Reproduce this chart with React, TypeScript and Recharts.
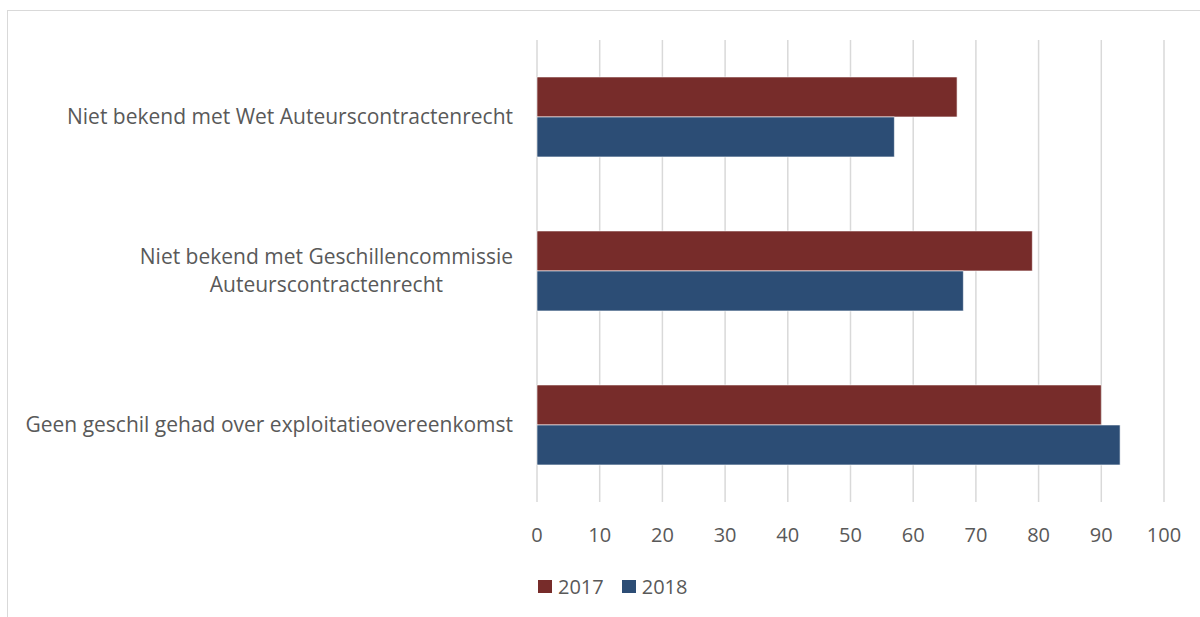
import React from 'react';
import { BarChart, Bar, XAxis, YAxis, CartesianGrid, Legend } from 'recharts';

const categories = [
  'Niet bekend met Wet Auteurscontractenrecht',
  'Niet bekend met Geschillencommissie Auteurscontractenrecht',
  'Geen geschil gehad over exploitatieovereenkomst',
];
const values2017 = [67, 79, 90];
const values2018 = [57, 68, 93];
const xTicks = [0, 10, 20, 30, 40, 50, 60, 70, 80, 90, 100];
const seriesNames = ['2017', '2018'];
const seriesColors = ['#772C2A', '#2C4D75'];

const data = categories.map((c, i) => ({ name: c, y2017: values2017[i], y2018: values2018[i] }));

const FONT = '"Open Sans", Lato, sans-serif';
const FS = 21;
const TFS = 20;
const TEXT = '#595959';

let ctx: CanvasRenderingContext2D | null = null;
function measure(s: string): number {
  if (!ctx) {
    const c = document.createElement('canvas');
    ctx = c.getContext('2d');
  }
  if (!ctx) return s.length * FS * 0.5;
  ctx.font = `${FS}px ${FONT}`;
  return ctx.measureText(s).width;
}

function wrap(s: string, maxW: number): string[] {
  const words = s.split(' ');
  const lines: string[] = [];
  let cur = '';
  for (const w of words) {
    const t = cur ? cur + ' ' + w : w;
    if (measure(t) > maxW && cur) {
      lines.push(cur);
      cur = w;
    } else cur = t;
  }
  if (cur) lines.push(cur);
  return lines;
}

const YTick = (props: any) => {
  const { y, payload } = props;
  const x = props.x - 16;
  const lines = wrap(String(payload.value), 505);
  const widths = lines.map(measure);
  const maxW = Math.max(...widths);
  const cx = x - maxW / 2;
  const lh = 28;
  const startY = y - ((lines.length - 1) * lh) / 2;
  return (
    <g>
      {lines.map((l, i) => (
        <text
          key={i}
          x={lines.length > 1 ? cx : x}
          y={startY + i * lh}
          dy="0.35em"
          textAnchor={lines.length > 1 ? 'middle' : 'end'}
          fill={TEXT}
          fontSize={FS}
          fontFamily={FONT}
        >
          {l}
        </text>
      ))}
    </g>
  );
};

const LegendContent = () => (
  <div style={{ display: 'flex', alignItems: 'center', fontFamily: FONT, fontSize: TFS, color: TEXT }}>
    {seriesNames.map((n, i) => (
      <div key={n} style={{ display: 'flex', alignItems: 'center', marginRight: 18 }}>
        <span style={{ width: 14, height: 13, background: seriesColors[i], display: 'inline-block', marginRight: 6 }} />
        <span>{n}</span>
      </div>
    ))}
  </div>
);

export default function App() {
  return (
    <div style={{ position: 'absolute', left: 0, top: 0, width: 1200, height: 617, overflow: 'hidden', background: '#fff' }}>
      <div
        style={{
          position: 'absolute',
          left: 7,
          top: 10,
          width: 1220,
          height: 640,
          border: '1.5px solid #d9d9d9',
          boxSizing: 'border-box',
        }}
      />
      <div style={{ position: 'absolute', left: 0, top: 0 }}>
        <BarChart
          width={1200}
          height={617}
          data={data}
          layout="vertical"
          margin={{ top: 40, right: 36, bottom: 29, left: 0 }}
          barCategoryGap="24%"
          barGap={0}
        >
          <CartesianGrid horizontal={false} stroke="#d9d9d9" strokeWidth={1.5} />
          <XAxis
            type="number"
            domain={[0, 100]}
            ticks={xTicks}
            interval={0}
            axisLine={false}
            tickLine={false}
            tickMargin={20}
            height={60}
            tick={{ fill: TEXT, fontSize: TFS, fontFamily: FONT }}
          />
          <YAxis
            type="category"
            dataKey="name"
            width={537}
            axisLine={false}
            tickLine={false}
            tick={<YTick />}
          />
          <Legend
            content={<LegendContent />}
            wrapperStyle={{ position: 'absolute', left: 538, top: 573, width: 300, height: 26 }}
          />
          <Bar dataKey="y2017" name="2017" fill={seriesColors[0]} stroke="#ffffff" strokeWidth={0.6} isAnimationActive={false} />
          <Bar dataKey="y2018" name="2018" fill={seriesColors[1]} stroke="#ffffff" strokeWidth={0.6} isAnimationActive={false} />
        </BarChart>
      </div>
    </div>
  );
}
